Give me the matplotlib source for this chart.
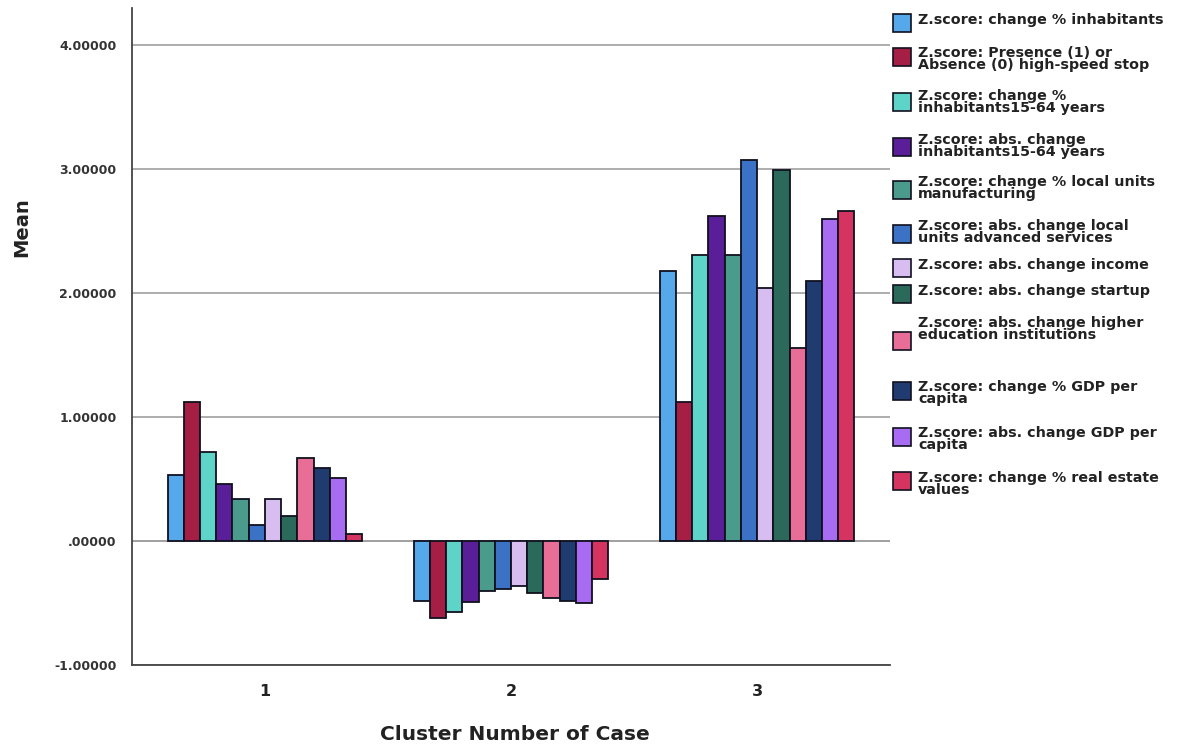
import matplotlib.pyplot as plt
from matplotlib.patches import Rectangle
import numpy as np

plt.rcParams['font.family'] = ['DejaVu Sans']
plt.rcParams['font.weight'] = 'bold'

clusters = [1, 2, 3]
series_names = [
    "Z.score: change % inhabitants",
    "Z.score: Presence (1) or\nAbsence (0) high-speed stop",
    "Z.score: change %\ninhabitants15-64 years",
    "Z.score: abs. change\ninhabitants15-64 years",
    "Z.score: change % local units\nmanufacturing",
    "Z.score: abs. change local\nunits advanced services",
    "Z.score: abs. change income",
    "Z.score: abs. change startup",
    "Z.score: abs. change higher\neducation institutions",
    "Z.score: change % GDP per\ncapita",
    "Z.score: abs. change GDP per\ncapita",
    "Z.score: change % real estate\nvalues",
]
colors = ["#55a9ea", "#a51f44", "#5ed4c9", "#5a1f98", "#4a9b8b", "#3b72c6",
          "#d8bdf0", "#2b6a5a", "#e86e98", "#1f3b70", "#a86cf2", "#d63460"]

# mean z-scores per cluster (rows = series, cols = cluster 1..3)
means_c1 = [0.53, 1.12, 0.72, 0.46, 0.34, 0.13, 0.34, 0.20, 0.67, 0.59, 0.51, 0.06]
means_c2 = [-0.48, -0.62, -0.57, -0.49, -0.40, -0.39, -0.36, -0.42, -0.46, -0.48, -0.50, -0.31]
means_c3 = [2.18, 1.12, 2.31, 2.62, 2.31, 3.07, 2.04, 2.99, 1.56, 2.10, 2.60, 2.66]

yticks = [-1, 0, 1, 2, 3, 4]
ytick_labels = ["-1.00000", ".00000", "1.00000", "2.00000", "3.00000", "4.00000"]

W, H = 1185, 747
fig = plt.figure(figsize=(W / 100, H / 100), dpi=100)
ax = fig.add_axes([132 / W, 1 - 665 / H, (890 - 132) / W, (665 - 8) / H])

n = len(series_names)
group_w = 0.79
bw = group_w / n
x = np.array(clusters, dtype=float)
data = np.array([means_c1, means_c2, means_c3]).T
for i in range(n):
    offs = -group_w / 2 + bw * (i + 0.5)
    ax.bar(x + offs, data[i], width=bw, color=colors[i], edgecolor="#10101f",
           linewidth=1.3, zorder=3)

ax.set_xlim(0.46, 3.54)
ax.set_ylim(-1, 4.3)
ax.set_yticks(yticks)
ax.set_yticklabels(ytick_labels, fontsize=9, fontweight='bold', color="#333333")
ax.set_xticks(clusters)
ax.set_xticklabels([str(c) for c in clusters], fontsize=11.5, fontweight='bold', color="#222222")
ax.tick_params(length=0, axis='y', pad=11)
ax.tick_params(length=0, axis='x', pad=14)
ax.grid(axis='y', color="#a0a0a0", linewidth=1.2, zorder=0)
ax.axhline(0, color="#a0a0a0", linewidth=1.2, zorder=1)
for s in ['top', 'right']:
    ax.spines[s].set_visible(False)
for s in ['left', 'bottom']:
    ax.spines[s].set_color("#444444")
    ax.spines[s].set_linewidth(1.3)

fig.text(22 / W, 1 - 227 / H, "Mean", rotation=90, ha='center', va='center',
         fontsize=14, fontweight='bold', color="#222222")
fig.text(515 / W, 1 - 735 / H, "Cluster Number of Case", ha='center', va='center',
         fontsize=14.5, fontweight='bold', color="#222222")

# legend entries: square centre and text top (pixels from top)
square_y = [23, 57, 102, 147, 190, 234, 268, 294, 341, 391, 437, 481]
text_y = [13, 46, 89, 133, 175, 219, 258, 284, 316, 380, 426, 471]
sq = 18
for i in range(n):
    fig.add_artist(Rectangle((893 / W, 1 - (square_y[i] + sq / 2) / H), sq / W, sq / H,
                             transform=fig.transFigure, facecolor=colors[i],
                             edgecolor="#10101f", linewidth=1.2))
    fig.text(918 / W, 1 - text_y[i] / H, series_names[i], ha='left', va='top',
             fontsize=10.3, fontweight='bold', color="#222222", linespacing=0.82)

fig.savefig("out.png", dpi=100)
